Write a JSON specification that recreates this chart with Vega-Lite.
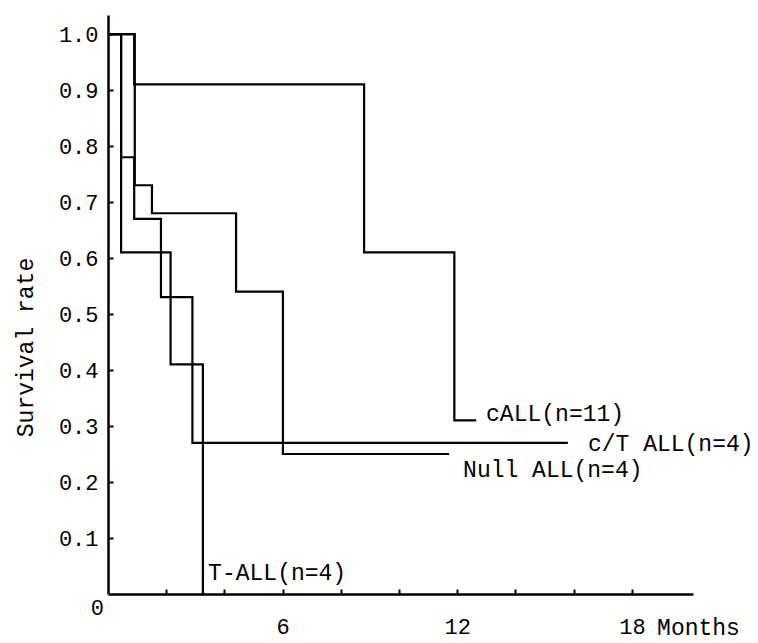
{
  "$schema": "https://vega.github.io/schema/vega-lite/v6.json",
  "width": 585,
  "height": 579,
  "autosize": "none",
  "padding": {"left": 108, "top": 15, "right": 65, "bottom": 49},
  "background": "white",
  "config": {
    "view": {"stroke": null},
    "font": "Liberation Mono",
    "axis": {"grid": false}
  },
  "datasets": {
    "curves": [
      {"series": "cALL", "month": 0, "rate": 1.0},
      {"series": "cALL", "month": 0.9, "rate": 0.91},
      {"series": "cALL", "month": 8.8, "rate": 0.61},
      {"series": "cALL", "month": 11.9, "rate": 0.31},
      {"series": "cALL", "month": 12.65, "rate": 0.31},
      {"series": "c/T ALL", "month": 0, "rate": 1.0},
      {"series": "c/T ALL", "month": 0.45, "rate": 0.78},
      {"series": "c/T ALL", "month": 0.9, "rate": 0.67},
      {"series": "c/T ALL", "month": 1.82, "rate": 0.53},
      {"series": "c/T ALL", "month": 2.9, "rate": 0.27},
      {"series": "c/T ALL", "month": 15.8, "rate": 0.27},
      {"series": "T-ALL", "month": 0, "rate": 1.0},
      {"series": "T-ALL", "month": 0.45, "rate": 0.61},
      {"series": "T-ALL", "month": 2.15, "rate": 0.41},
      {"series": "T-ALL", "month": 3.26, "rate": 0.0},
      {"series": "Null ALL", "month": 0, "rate": 1.0},
      {"series": "Null ALL", "month": 0.92, "rate": 0.73},
      {"series": "Null ALL", "month": 1.51, "rate": 0.68},
      {"series": "Null ALL", "month": 4.4, "rate": 0.54},
      {"series": "Null ALL", "month": 6.01, "rate": 0.25},
      {"series": "Null ALL", "month": 11.72, "rate": 0.25}
    ],
    "labels": [
      {"label": "cALL(n=11)", "month": 12.99, "rate": 0.321},
      {"label": "c/T ALL(n=4)", "month": 16.49, "rate": 0.268},
      {"label": "Null ALL(n=4)", "month": 12.2, "rate": 0.221},
      {"label": "T-ALL(n=4)", "month": 3.44, "rate": 0.0375}
    ],
    "origin": [
      {"label": "0", "month": 0, "rate": 0}
    ]
  },
  "layer": [
    {
      "data": {"name": "curves"},
      "mark": {"type": "line", "interpolate": "step-after", "color": "black", "strokeWidth": 2.2},
      "encoding": {
        "x": {
          "field": "month", "type": "quantitative",
          "scale": {"domain": [0, 20.1], "nice": false, "zero": false},
          "axis": {
            "values": [2, 4, 6, 8, 10, 12, 14, 16, 18],
            "labelExpr": "datum.value % 6 == 0 ? datum.value : ''",
            "domainColor": "black", "domainWidth": 2.5,
            "tickColor": "black", "tickWidth": 2, "tickSize": -5,
            "labelFont": "Liberation Mono", "labelFontSize": 22, "labelColor": "black",
            "labelPadding": 27, "labelBaseline": "top",
            "title": "Months",
            "titleFont": "Liberation Mono", "titleFontSize": 23, "titleFontWeight": "normal", "titleColor": "black",
            "titleX": 590, "titleY": 33, "titleAlign": "center", "titleBaseline": "middle", "titleAnchor": null
          }
        },
        "y": {
          "field": "rate", "type": "quantitative",
          "scale": {"domain": [0, 1.034], "nice": false, "zero": false},
          "axis": {
            "values": [0.1, 0.2, 0.3, 0.4, 0.5, 0.6, 0.7, 0.8, 0.9, 1.0],
            "format": ".1f",
            "domainColor": "black", "domainWidth": 2.5,
            "tickColor": "black", "tickWidth": 2, "tickSize": -5,
            "labelFont": "Liberation Mono", "labelFontSize": 22, "labelColor": "black",
            "labelPadding": 15,
            "title": "Survival rate",
            "titleFont": "Liberation Mono", "titleFontSize": 23, "titleFontWeight": "normal", "titleColor": "black",
            "titleX": -83, "titleY": 332, "titleAngle": -90, "titleAlign": "center", "titleBaseline": "middle", "titleAnchor": null
          }
        },
        "detail": {"field": "series"}
      }
    },
    {
      "data": {"name": "labels"},
      "mark": {"type": "text", "align": "left", "baseline": "middle", "font": "Liberation Mono", "fontSize": 23, "color": "black"},
      "encoding": {
        "x": {"field": "month", "type": "quantitative"},
        "y": {"field": "rate", "type": "quantitative"},
        "text": {"field": "label"}
      }
    },
    {
      "data": {"name": "origin"},
      "mark": {"type": "text", "align": "right", "baseline": "middle", "dx": -4, "dy": 14, "font": "Liberation Mono", "fontSize": 22, "color": "black"},
      "encoding": {
        "x": {"field": "month", "type": "quantitative"},
        "y": {"field": "rate", "type": "quantitative"},
        "text": {"field": "label"}
      }
    }
  ]
}
